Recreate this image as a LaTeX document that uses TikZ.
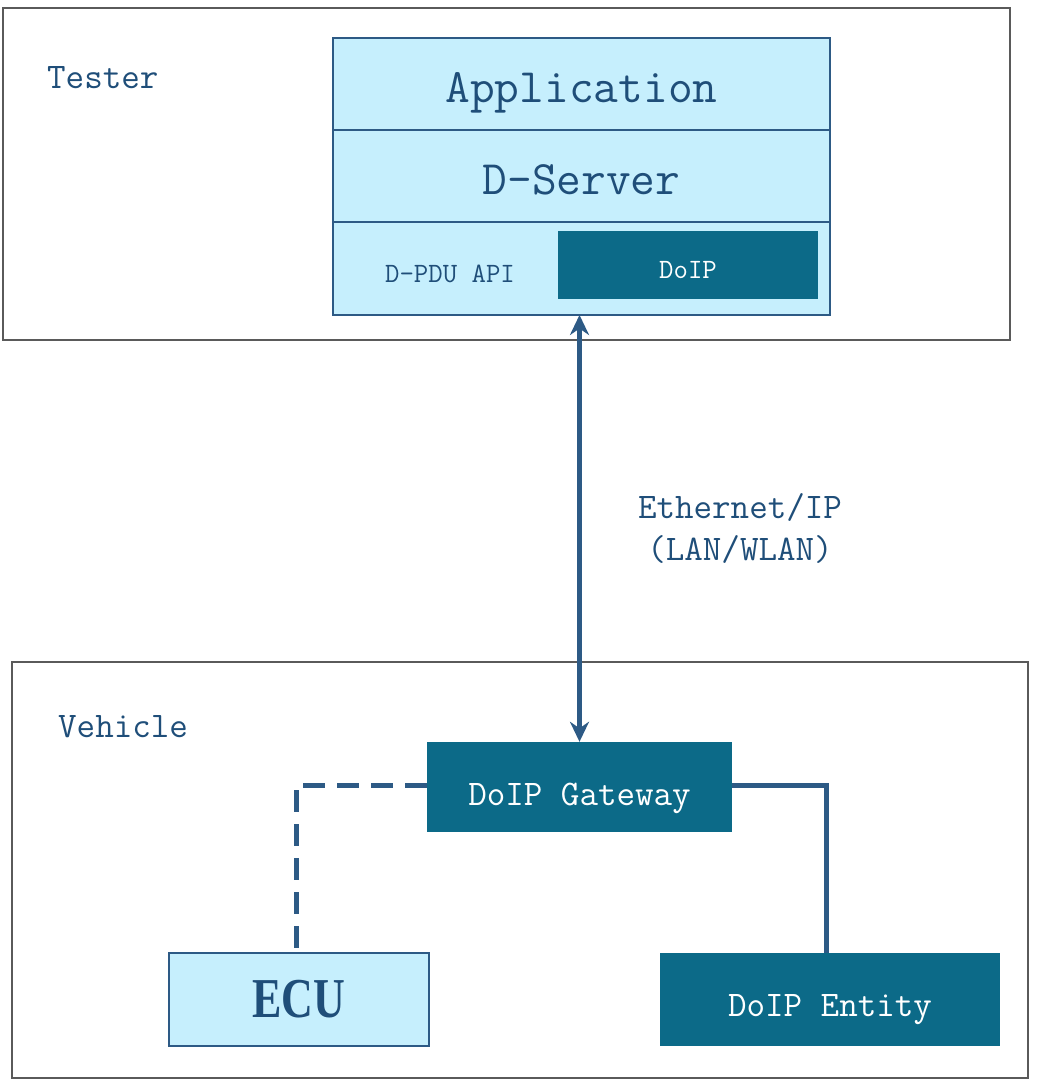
\documentclass[tikz,border=0pt]{standalone}
\usepackage{fontspec}
\usetikzlibrary{positioning,arrows.meta}
\newfontfamily\ecufont{Liberation Serif}
\definecolor{lightcyan}{HTML}{C6EFFD}
\definecolor{doipblue}{HTML}{0C6A88}
\definecolor{edgeblue}{HTML}{2D5A85}
\definecolor{textblue}{HTML}{1F4E79}
\definecolor{framegray}{HTML}{5A5A5A}
\begin{document}
\begin{tikzpicture}[x=1pt,y=-1pt, font=\ttfamily,
    outer/.style={rectangle, draw=framegray, line width=2.5pt, inner sep=0pt},
    layer/.style={rectangle, draw=edgeblue, fill=lightcyan, line width=2.5pt, outer sep=0pt,
      minimum width=497pt, minimum height=92pt, inner sep=0pt, text=textblue,
      text height=38pt, text depth=0pt},
    dark/.style={rectangle, fill=doipblue, text=white, inner sep=0pt,
      text height=33pt, text depth=0pt, font=\ttfamily\fontsize{36}{36}\selectfont},
    label/.style={text=textblue, inner sep=0pt, font=\ttfamily\fontsize{36}{36}\selectfont},
    conn/.style={draw=edgeblue, line width=5pt}]

  \useasboundingbox (0,0) rectangle (1038,1083);

  \node[outer, minimum width=1007pt, minimum height=332pt] (tester) at (506.5,174) {};
  \node[label, anchor=west] (testerlbl) at (47,78) {Tester};

  \node[layer, font=\ttfamily\fontsize{48}{48}\selectfont] (app) at (581.5,84) {Application};
  \node[layer, font=\ttfamily\fontsize{48}{48}\selectfont, below=0pt of app] (server) {D-Server};
  \node[layer, minimum height=93pt, below=0pt of server] (pdu) {};
  \node[label, font=\ttfamily\fontsize{28}{28}\selectfont] (pdulbl) at (450,274) {D-PDU API};
  \node[dark, minimum width=260pt, minimum height=68pt, text height=26pt,
    font=\ttfamily\fontsize{28}{28}\selectfont] (doip) at (688,265) {DoIP};

  \node[outer, minimum width=1016pt, minimum height=416pt] (vehicle) at (520,870) {};
  \node[label, anchor=west] (vehiclelbl) at (58,727) {Vehicle};

  \node[dark, minimum width=305pt, minimum height=90pt, text height=36pt] (gateway) at (579.5,787) {DoIP Gateway};
  \node[rectangle, draw=edgeblue, fill=lightcyan, line width=2.5pt, minimum width=260pt,
    minimum height=93pt, text=textblue] (ecu) at (299,999.5)
    {\ecufont\bfseries\fontsize{44}{44}\selectfont\raisebox{-6pt}{\scalebox{1}[1.28]{ECU}}};
  \node[dark, minimum width=340pt, minimum height=93pt] (entity) at (830,999.5) {DoIP Entity};

  \draw[conn, {Stealth[length=20pt,width=19pt]}-{Stealth[length=20pt,width=19pt]}]
    (pdu.south -| gateway.north) -- (gateway.north);
  \node[label, align=center] (netlbl) at (740,528) {Ethernet/IP\\[6pt](LAN/WLAN)};

  \draw[conn, dash pattern=on 22pt off 12pt] (gateway.west |- 0,785) -| (ecu.north -| 296,0);
  \draw[conn] (gateway.east |- 0,785) -| (entity.north -| 826,0);
\end{tikzpicture}
\end{document}
